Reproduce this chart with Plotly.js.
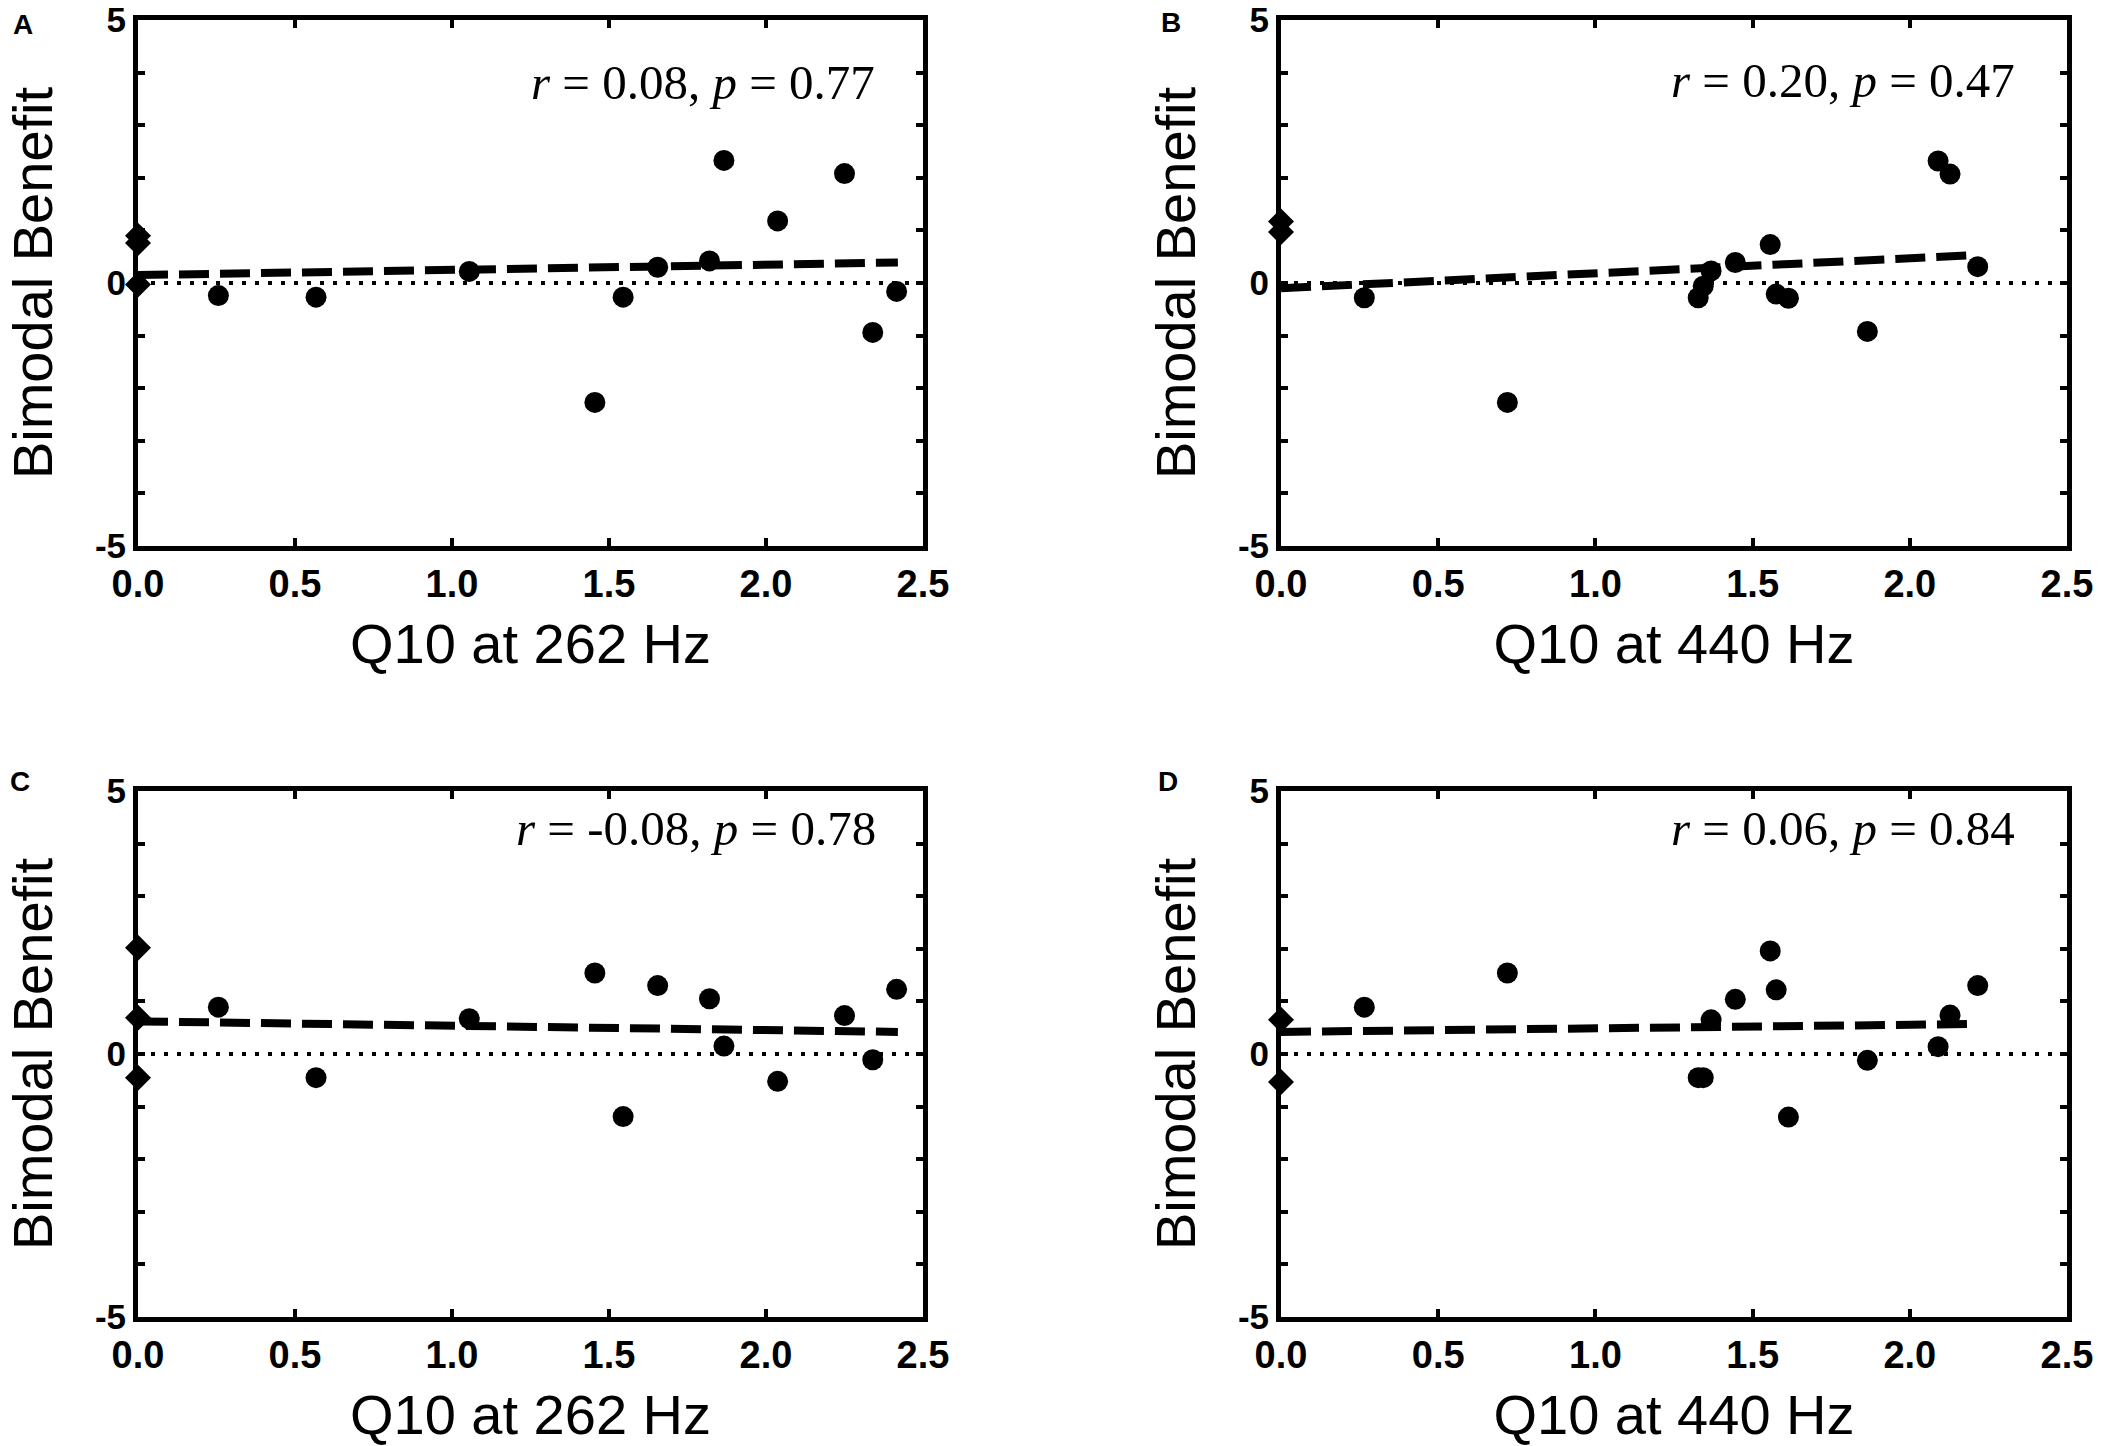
<!DOCTYPE html>
<html>
<head>
<meta charset="utf-8">
<script src="https://cdn.plot.ly/plotly-3.0.1.min.js"></script>
<style>
  html, body { margin: 0; padding: 0; background: #fff; }
  #chart { width: 2102px; height: 1446px; }
</style>
</head>
<body>
<div id="chart"></div>
<script>
// ── Datos ─────────────────────────────────────────────────────────────────
// Q10 en 262 Hz (paneles A y C) y en 440 Hz (paneles B y D)
const q262 = [0.256, 0.567, 1.055, 1.455, 1.545, 1.655, 1.82, 1.866, 2.037, 2.25, 2.34, 2.416];
const q440 = [0.265, 0.72, 1.327, 1.343, 1.368, 1.445, 1.556, 1.575, 1.614, 1.865, 2.09, 2.128, 2.216];

const benefitA = [-0.24, -0.27, 0.22, -2.27, -0.27, 0.30, 0.42, 2.33, 1.18, 2.08, -0.94, -0.16];
const benefitB = [-0.28, -2.27, -0.28, -0.06, 0.23, 0.39, 0.73, -0.21, -0.29, -0.92, 2.32, 2.07, 0.31];
const benefitC = [0.89, -0.45, 0.67, 1.54, -1.19, 1.30, 1.05, 0.15, -0.52, 0.73, -0.11, 1.23];
const benefitD = [0.89, 1.54, -0.45, -0.45, 0.65, 1.04, 1.96, 1.22, -1.20, -0.12, 0.14, 0.74, 1.30];

// sujetos sin Q10 medible (rombos sobre x = 0)
const noQ10A = [0.90, 0.76, -0.03];
const noQ10B = [1.17, 0.97];
const noQ10C = [2.02, 0.69, -0.45];
const noQ10D = [0.65, -0.53];

// rectas de regresión (extremos)
const fitAx = [0, 2.42], fitAy = [0.15, 0.39];
const fitBx = [0, 2.21], fitBy = [-0.10, 0.53];
const fitCx = [0, 2.42], fitCy = [0.62, 0.42];
const fitDx = [0, 2.21], fitDy = [0.42, 0.57];

const stats = ['<i>r</i> = 0.08, <i>p</i> = 0.77', '<i>r</i> = 0.20, <i>p</i> = 0.47',
               '<i>r</i> = -0.08, <i>p</i> = 0.78', '<i>r</i> = 0.06, <i>p</i> = 0.84'];
const panelLetters = ['A', 'B', 'C', 'D'];
const xTitles = ['Q10 at 262 Hz', 'Q10 at 440 Hz', 'Q10 at 262 Hz', 'Q10 at 440 Hz'];
const xTicks = [0, 0.5, 1, 1.5, 2, 2.5];
const xTickText = ['0.0', '0.5', '1.0', '1.5', '2.0', '2.5'];
const yTicks = [-5, -4, -3, -2, -1, 0, 1, 2, 3, 4, 5];
const yTickText = ['-5', '', '', '', '', '0', '', '', '', '', '5'];

// ── Geometría ─────────────────────────────────────────────────────────────
const W = 2102, H = 1446;
const M = { l: 138, r: 35, t: 20, b: 129 };
const pw = W - M.l - M.r, ph = H - M.t - M.b;
const fx = px => (px - M.l) / pw;
const fy = py => (H - M.b - py) / ph;

const SANS  = 'Liberation Sans, Arial, sans-serif';
const SERIF = 'Liberation Serif, Times New Roman, serif';

const panels = [
  { xs: q262, ys: benefitA, dia: noQ10A, fx: fitAx, fy: fitAy },
  { xs: q440, ys: benefitB, dia: noQ10B, fx: fitBx, fy: fitBy },
  { xs: q262, ys: benefitC, dia: noQ10C, fx: fitCx, fy: fitCy },
  { xs: q440, ys: benefitD, dia: noQ10D, fx: fitDx, fy: fitDy }
];

const xDomains = [[fx(138), fx(923)], [fx(1281), fx(2067)]];
const yDomains = [[fy(546), fy(20)], [fy(1317), fy(791)]];

const traces = [];
const layout = {
  width: W, height: H,
  margin: M,
  paper_bgcolor: '#fff',
  plot_bgcolor: '#fff',
  showlegend: false,
  font: { family: SANS, color: '#000' },
  annotations: [],
  shapes: []
};

// posiciones de letras y textos de estadística (px)
const letterPos = [[23, 25], [1171, 23], [20, 781], [1168, 781]];
const statPos   = [[877, 82], [2017, 80], [878, 828], [2017, 828]];

panels.forEach((p, i) => {
  const n = i === 0 ? '' : String(i + 1);
  const xa = 'x' + n, ya = 'y' + n;

  // línea punteada en cero
  layout.shapes.push({
    type: 'line', xref: xa + ' domain', yref: ya,
    x0: 0, x1: 1, y0: 0, y1: 0,
    line: { color: '#000', width: 4, dash: '4px,9px' }
  });

  traces.push({
    type: 'scatter', mode: 'lines', x: p.fx, y: p.fy,
    xaxis: xa, yaxis: ya,
    line: { color: '#000', width: 8, dash: '30px,11px' },
    hoverinfo: 'skip'
  });
  traces.push({
    type: 'scatter', mode: 'markers', x: p.xs, y: p.ys,
    xaxis: xa, yaxis: ya,
    marker: { symbol: 'circle', size: 21, color: '#000' }
  });
  traces.push({
    type: 'scatter', mode: 'markers', x: p.dia.map(() => 0), y: p.dia,
    xaxis: xa, yaxis: ya, cliponaxis: false,
    marker: { symbol: 'diamond', size: 20, color: '#000' }
  });

  layout['xaxis' + n] = {
    domain: xDomains[i % 2],
    anchor: ya,
    range: [0, 2.5],
    tickvals: xTicks, ticktext: xTickText,
    ticks: 'inside', ticklen: 8, tickwidth: 4, tickcolor: '#000',
    showline: true, linewidth: 5, linecolor: '#000', mirror: 'ticks',
    showgrid: false, zeroline: false,
    tickfont: { family: SANS, size: 38, color: '#000', weight: 'bold' },
    title: { text: xTitles[i], font: { family: SANS, size: 56, color: '#000' }, standoff: 22 }
  };
  layout['yaxis' + n] = {
    domain: yDomains[Math.floor(i / 2)],
    anchor: xa,
    range: [-5, 5],
    tickvals: yTicks, ticktext: yTickText,
    ticks: 'inside', ticklen: 7, tickwidth: 4, tickcolor: '#000',
    showline: true, linewidth: 5, linecolor: '#000', mirror: 'ticks',
    showgrid: false, zeroline: false,
    tickfont: { family: SANS, size: 35, color: '#000', weight: 'bold' },
    title: { text: 'Bimodal Benefit', font: { family: SANS, size: 56, color: '#000' }, standoff: 26 }
  };

  layout.annotations.push({
    xref: 'paper', yref: 'paper',
    x: fx(letterPos[i][0]), y: fy(letterPos[i][1]),
    xanchor: 'center', yanchor: 'middle',
    text: '<b>' + panelLetters[i] + '</b>', showarrow: false,
    font: { family: SANS, size: 28, color: '#000' }
  });
  layout.annotations.push({
    xref: 'paper', yref: 'paper',
    x: fx(statPos[i][0]), y: fy(statPos[i][1]),
    xanchor: 'right', yanchor: 'middle',
    text: stats[i], showarrow: false,
    font: { family: SERIF, size: 49, color: '#000' }
  });
});

Plotly.newPlot('chart', traces, layout, { displayModeBar: false, staticPlot: true });
</script>
</body>
</html>
